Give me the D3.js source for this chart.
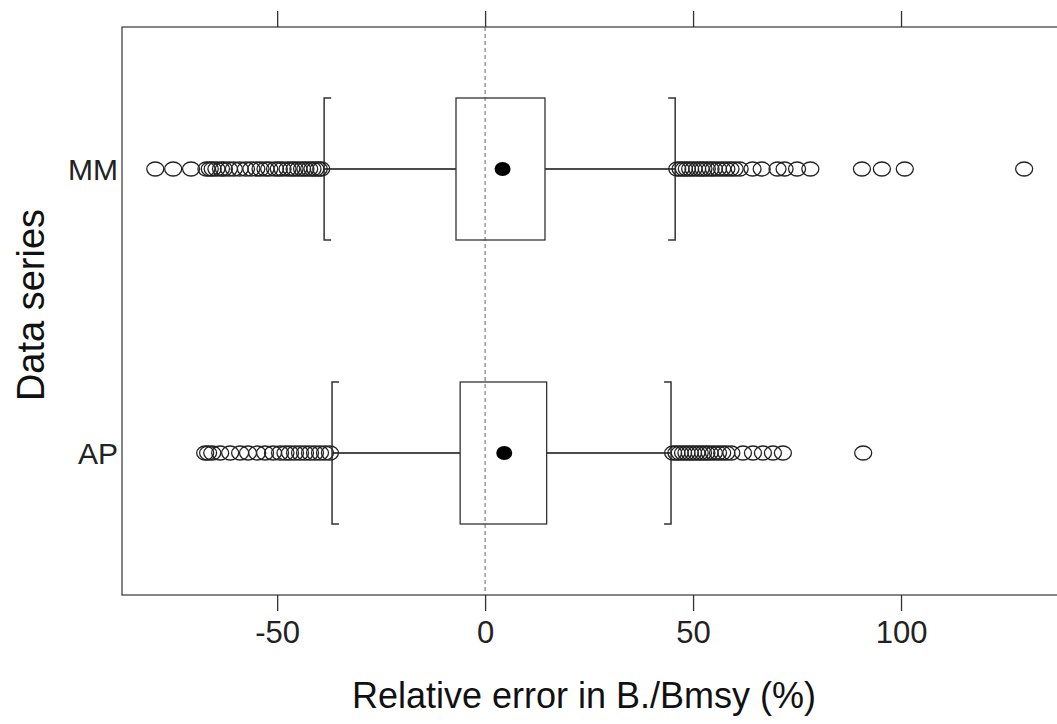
<!DOCTYPE html>
<html>
<head>
<meta charset="utf-8">
<script src="https://cdn.jsdelivr.net/npm/d3@7"></script>
<style>
  body { margin: 0; background: #fff; }
  text { font-family: "Liberation Sans", Arial, sans-serif; }
</style>
</head>
<body>
<div id="chart"></div>
<script>
const width = 1057;
const height = 724;

// data
const series = ["AP", "MM"];
const q1 = [-6, -7];
const medians = [4.6, 4.2];
const q3 = [14.8, 14.4];
const whiskerLow = [-36.8, -38.7];
const whiskerHigh = [44.7, 45.7];
const outliersAP = [
    -67.3, -66.6, -65.6, -63.7, -61.3, -58.9, -57, -54.8, -52.9, -51, -49.3, -48,
    -46.9, -45.7, -44.5, -43.3, -42.1, -40.9, -39.7, -38.5, -37.3,
    45.2, 46, 46.8, 47.6, 48.4, 49.2, 50, 50.8, 51.6, 52.4, 53.2, 54, 55, 56, 57,
    58, 59.2, 62, 64.4, 66.8, 69.2, 71.6, 90.9
];
const outliersMM = [
    -79.3, -75, -70.7, -67, -66.2, -65.5, -64.6, -63.5, -62.8, -61.6, -60.4, -59,
    -57.5, -56.2, -55, -54, -52.8, -51.9, -50.5, -49.6, -48.7, -47.5, -46.6, -45.8,
    -44.9, -44, -43.2, -42.3, -41.5, -40.8, -40, -39.4,
    46.2, 47, 47.8, 48.5, 49.3, 50.1, 51, 51.8, 52.5, 53.3, 54.2, 55, 56, 57, 58,
    59, 60, 61.2, 64.3, 66.5, 70.3, 72, 75, 78.2, 90.6, 95.4, 100.9, 129.6
];
const outliers = [outliersAP, outliersMM];
const tickValues = [-50, 0, 50, 100];

const panelLeft = 122, panelTop = 27, panelRight = 1057, panelBottom = 595;

const svg = d3.select("#chart")
    .append("svg")
    .attr("width", width)
    .attr("height", height);

const x = d3.scaleLinear().domain([-87.3, 137.5]).range([panelLeft, panelRight]);
const y = d3.scalePoint().domain(series).range([panelBottom, panelTop]).padding(0.5);
const half = 71;

// panel
svg.append("rect")
    .attr("x", panelLeft)
    .attr("y", panelTop)
    .attr("width", panelRight - panelLeft + 5)
    .attr("height", panelBottom - panelTop)
    .attr("fill", "none")
    .attr("stroke", "#444")
    .attr("stroke-width", 1.3);

// zero reference line
svg.append("line")
    .attr("x1", x(0)).attr("x2", x(0))
    .attr("y1", panelTop).attr("y2", panelBottom)
    .attr("stroke", "#666")
    .attr("stroke-width", 1)
    .attr("stroke-dasharray", "4,3");

const topAxis = svg.append("g")
    .attr("transform", `translate(0,${panelTop})`)
    .call(d3.axisTop(x).tickValues(tickValues).tickSize(16).tickFormat(""));
const bottomAxis = svg.append("g")
    .attr("transform", `translate(0,${panelBottom})`)
    .call(d3.axisBottom(x).tickValues(tickValues).tickSize(16).tickPadding(10)
        .tickFormat(d => String(d)));
[topAxis, bottomAxis].forEach(g => {
    g.select(".domain").remove();
    g.selectAll(".tick line").attr("stroke", "#333").attr("stroke-width", 1.3);
});
bottomAxis.selectAll(".tick text")
    .attr("font-size", 31)
    .attr("fill", "#222")
    .attr("font-family", "Liberation Sans, Arial, sans-serif");

// category labels
svg.selectAll(".cat")
    .data(series)
    .enter()
    .append("text")
    .attr("class", "cat")
    .attr("x", 118)
    .attr("y", d => y(d))
    .attr("dy", "0.36em")
    .attr("text-anchor", "end")
    .attr("font-size", 30)
    .attr("fill", "#222")
    .text(d => d);

// boxes
const boxes = svg.selectAll(".box")
    .data(series)
    .enter()
    .append("g")
    .attr("class", "box");

boxes.append("line")
    .attr("x1", (d, i) => x(whiskerLow[i]))
    .attr("x2", (d, i) => x(q1[i]))
    .attr("y1", d => y(d)).attr("y2", d => y(d))
    .attr("stroke", "#111").attr("stroke-width", 1.5);
boxes.append("line")
    .attr("x1", (d, i) => x(q3[i]))
    .attr("x2", (d, i) => x(whiskerHigh[i]))
    .attr("y1", d => y(d)).attr("y2", d => y(d))
    .attr("stroke", "#111").attr("stroke-width", 1.5);

boxes.append("rect")
    .attr("x", (d, i) => x(q1[i]))
    .attr("y", d => y(d) - half)
    .attr("width", (d, i) => x(q3[i]) - x(q1[i]))
    .attr("height", half * 2)
    .attr("fill", "none")
    .attr("stroke", "#333")
    .attr("stroke-width", 1.3);

// bracket caps
const serif = 7;
boxes.append("path")
    .attr("d", (d, i) => {
        const cx = x(whiskerLow[i]), cy = y(d);
        return `M${cx + serif},${cy - half} H${cx} V${cy + half} H${cx + serif}`;
    })
    .attr("fill", "none").attr("stroke", "#333").attr("stroke-width", 1.5);
boxes.append("path")
    .attr("d", (d, i) => {
        const cx = x(whiskerHigh[i]), cy = y(d);
        return `M${cx - serif},${cy - half} H${cx} V${cy + half} H${cx - serif}`;
    })
    .attr("fill", "none").attr("stroke", "#333").attr("stroke-width", 1.5);

// outliers
boxes.each(function (d, i) {
    d3.select(this).selectAll("ellipse.out")
        .data(outliers[i])
        .enter()
        .append("ellipse")
        .attr("class", "out")
        .attr("cx", v => x(v))
        .attr("cy", y(d))
        .attr("rx", 8.5)
        .attr("ry", 7)
        .attr("fill", "none")
        .attr("stroke", "#222")
        .attr("stroke-width", 1.3);
});

// medians
boxes.append("ellipse")
    .attr("cx", (d, i) => x(medians[i]))
    .attr("cy", d => y(d))
    .attr("rx", 8)
    .attr("ry", 7)
    .attr("fill", "#000");

// axis titles
svg.append("text")
    .attr("x", 584)
    .attr("y", 708)
    .attr("text-anchor", "middle")
    .attr("font-size", 36)
    .attr("fill", "#111")
    .text("Relative error in B./Bmsy (%)");

svg.append("text")
    .attr("transform", "translate(44,305) rotate(-90)")
    .attr("text-anchor", "middle")
    .attr("font-size", 38)
    .attr("fill", "#111")
    .text("Data series");
</script>
</body>
</html>
